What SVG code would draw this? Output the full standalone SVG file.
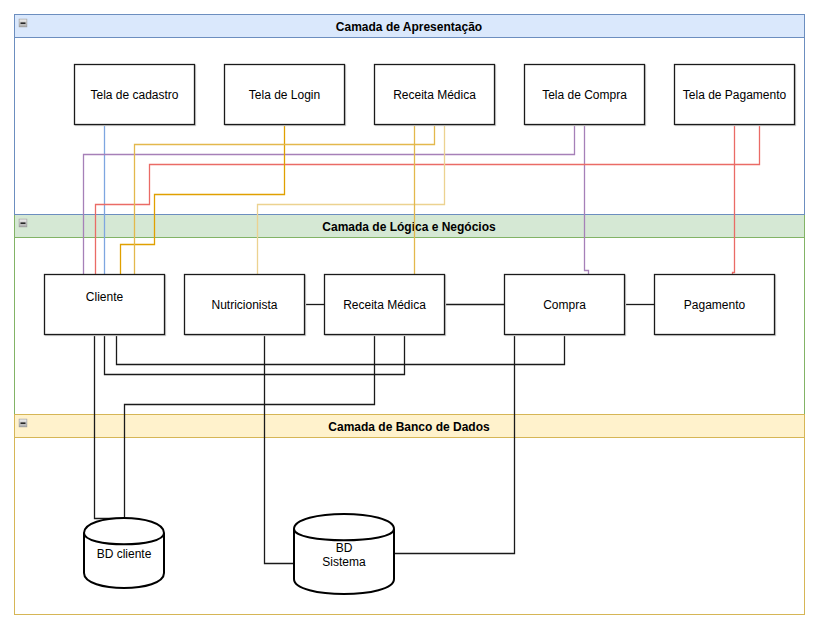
<svg xmlns="http://www.w3.org/2000/svg" width="825" height="632" viewBox="0 0 825 632">
  <style>
    text { font-family: "Liberation Sans", Arial, sans-serif; font-size: 12px; fill: #000; }
    .title { font-weight: bold; }
    .box { fill: #fff; stroke: #1a1a1a; stroke-width: 1.3; }
    .shadow { fill: none; stroke: #cfcfcf; stroke-width: 1.3; }
    .edge { fill: none; stroke-width: 1.3; }
    .black { stroke: #1a1a1a; }
    .blue { stroke: #7ea6e0; }
    .purple { stroke: #a680b8; }
    .red { stroke: #ea6b66; }
    .orange { stroke: #e0a000; }
    .yellow { stroke: #e3b84c; }
    .paleyellow { stroke: #ecd290; }
    .icon { fill: url(#iconGrad); stroke: #9a9a9a; stroke-width: 0.8; }
  </style>
  <defs>
    <linearGradient id="iconGrad" x1="0" y1="0" x2="0" y2="1">
      <stop offset="0" stop-color="#f2f2f2"/>
      <stop offset="1" stop-color="#a8a8a8"/>
    </linearGradient>
    <symbol id="collapse" viewBox="0 0 9 9">
      <rect class="icon" x="0.5" y="0.5" width="8" height="8"/>
      <rect x="2" y="4" width="5" height="1.3" fill="#000"/>
    </symbol>
  </defs>

  <rect width="825" height="632" fill="#fff"/>

  <!-- layers -->
  <g id="layer-logica">
    <rect x="14.5" y="214.5" width="790" height="200" fill="#fff" stroke="#82b366"/>
    <rect x="14.5" y="214.5" width="790" height="23" fill="#d5e8d4" stroke="#82b366"/>
    <use href="#collapse" x="18.5" y="218.5" width="9" height="9"/>
    <text class="title" x="409" y="230.5" text-anchor="middle">Camada de Lógica e Negócios</text>
  </g>
  <g id="layer-banco">
    <rect x="14.5" y="414.5" width="790" height="200" fill="#fff" stroke="#d6b656"/>
    <rect x="14.5" y="414.5" width="790" height="23" fill="#fff2cc" stroke="#d6b656"/>
    <use href="#collapse" x="18.5" y="418.5" width="9" height="9"/>
    <text class="title" x="409" y="430.5" text-anchor="middle">Camada de Banco de Dados</text>
  </g>
  <g id="layer-apresentacao">
    <rect x="14.5" y="14.5" width="790" height="200" fill="#fff" stroke="#6c8ebf"/>
    <rect x="14.5" y="14.5" width="790" height="23" fill="#dae8fc" stroke="#6c8ebf"/>
    <use href="#collapse" x="18.5" y="18.5" width="9" height="9"/>
    <text class="title" x="409" y="30.5" text-anchor="middle">Camada de Apresentação</text>
  </g>

  <!-- connectors -->
  <g id="connectors">
    <!-- presentation to logic -->
    <polyline class="edge blue" points="104.5,124 104.5,274"/>
    <polyline class="edge purple" points="574.5,124 574.5,154.5 83.5,154.5 83.5,275"/>
    <polyline class="edge purple" points="584.5,124 584.5,270.5 588.5,270.5 588.5,274"/>
    <polyline class="edge red" points="759.5,124 759.5,164.5 149.5,164.5 149.5,204.5 95.5,204.5 95.5,274"/>
    <polyline class="edge red" points="734.5,124 734.5,272.5 732.5,272.5 732.5,274"/>
    <polyline class="edge orange" points="284.5,124 284.5,194.5 154.5,194.5 154.5,244.5 120.5,244.5 120.5,274"/>
    <polyline class="edge yellow" points="434.5,124 434.5,144.5 134.5,144.5 134.5,274"/>
    <polyline class="edge paleyellow" points="444.5,124 444.5,204.5 257.5,204.5 257.5,275"/>
    <polyline class="edge yellow" points="414.5,124 414.5,274"/>

    <!-- logic to logic -->
    <line class="edge black" x1="304" y1="304.5" x2="324" y2="304.5"/>
    <line class="edge black" x1="444" y1="304.5" x2="504" y2="304.5"/>
    <line class="edge black" x1="624" y1="304.5" x2="654" y2="304.5"/>
    <polyline class="edge black" points="104.5,334 104.5,374.5 404.5,374.5 404.5,334"/>
    <polyline class="edge black" points="116.5,334 116.5,364.5 564.5,364.5 564.5,334"/>

    <!-- logic to database -->
    <polyline class="edge black" points="94.5,334 94.5,518.5 124.5,518.5"/>
    <polyline class="edge black" points="374.5,334 374.5,404.5 124.5,404.5 124.5,518.5"/>
    <polyline class="edge black" points="264.5,334 264.5,563.5 294,563.5"/>
    <polyline class="edge black" points="514.5,334 514.5,553.5 394,553.5"/>
  </g>

  <!-- presentation screens -->
  <g id="tela-cadastro">
    <rect class="shadow" x="75.5" y="65.5" width="120" height="60"/>
    <rect class="box" x="74.5" y="64.5" width="120" height="60"/>
    <text x="134.5" y="98.5" text-anchor="middle">Tela de cadastro</text>
  </g>
  <g id="tela-login">
    <rect class="shadow" x="225.5" y="65.5" width="120" height="60"/>
    <rect class="box" x="224.5" y="64.5" width="120" height="60"/>
    <text x="284.5" y="98.5" text-anchor="middle">Tela de Login</text>
  </g>
  <g id="tela-receita">
    <rect class="shadow" x="375.5" y="65.5" width="120" height="60"/>
    <rect class="box" x="374.5" y="64.5" width="120" height="60"/>
    <text x="434.5" y="98.5" text-anchor="middle">Receita Médica</text>
  </g>
  <g id="tela-compra">
    <rect class="shadow" x="525.5" y="65.5" width="120" height="60"/>
    <rect class="box" x="524.5" y="64.5" width="120" height="60"/>
    <text x="584.5" y="98.5" text-anchor="middle">Tela de Compra</text>
  </g>
  <g id="tela-pagamento">
    <rect class="shadow" x="675.5" y="65.5" width="120" height="60"/>
    <rect class="box" x="674.5" y="64.5" width="120" height="60"/>
    <text x="734.5" y="98.5" text-anchor="middle">Tela de Pagamento</text>
  </g>

  <!-- business logic -->
  <g id="cliente">
    <rect class="shadow" x="45.5" y="275.5" width="120" height="60"/>
    <rect class="box" x="44.5" y="274.5" width="120" height="60"/>
    <text x="104.5" y="301" text-anchor="middle">Cliente</text>
  </g>
  <g id="nutricionista">
    <rect class="shadow" x="185.5" y="275.5" width="120" height="60"/>
    <rect class="box" x="184.5" y="274.5" width="120" height="60"/>
    <text x="244.5" y="308.5" text-anchor="middle">Nutricionista</text>
  </g>
  <g id="receita-medica">
    <rect class="shadow" x="325.5" y="275.5" width="120" height="60"/>
    <rect class="box" x="324.5" y="274.5" width="120" height="60"/>
    <text x="384.5" y="308.5" text-anchor="middle">Receita Médica</text>
  </g>
  <g id="compra">
    <rect class="shadow" x="505.5" y="275.5" width="120" height="60"/>
    <rect class="box" x="504.5" y="274.5" width="120" height="60"/>
    <text x="564.5" y="308.5" text-anchor="middle">Compra</text>
  </g>
  <g id="pagamento">
    <rect class="shadow" x="655.5" y="275.5" width="120" height="60"/>
    <rect class="box" x="654.5" y="274.5" width="120" height="60"/>
    <text x="714.5" y="308.5" text-anchor="middle">Pagamento</text>
  </g>

  <!-- databases -->
  <g id="bd-cliente" transform="translate(84,518)">
    <path d="M0,15 C0,-5 80,-5 80,15 L80,55 C80,75 0,75 0,55 Z" fill="#fff" stroke="#000" stroke-width="2"/>
    <path d="M0,15 C0,30 80,30 80,15" fill="none" stroke="#000" stroke-width="2"/>
    <text x="40" y="40" text-anchor="middle">BD cliente</text>
  </g>
  <g id="bd-sistema" transform="translate(294,514)">
    <path d="M0,15 C0,-5 100,-5 100,15 L100,65 C100,85 0,85 0,65 Z" fill="#fff" stroke="#000" stroke-width="2"/>
    <path d="M0,15 C0,30 100,30 100,15" fill="none" stroke="#000" stroke-width="2"/>
    <text x="50" y="38" text-anchor="middle">BD</text>
    <text x="50" y="52" text-anchor="middle">Sistema</text>
  </g>
</svg>
